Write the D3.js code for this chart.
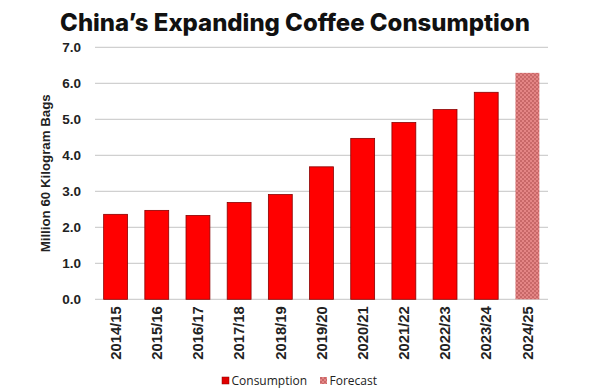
<!DOCTYPE html>
<html>
<head>
<meta charset="utf-8">
<script src="https://cdn.jsdelivr.net/npm/d3@7"></script>
<style>
  html, body { margin: 0; padding: 0; background: #fff; }
  svg { display: block; }
</style>
</head>
<body>
<svg id="chart" width="593" height="391"></svg>
<script>
const categories = ["2014/15","2015/16","2016/17","2017/18","2018/19","2019/20","2020/21","2021/22","2022/23","2023/24","2024/25"];
const consumption = [2.36, 2.47, 2.33, 2.69, 2.91, 3.68, 4.47, 4.91, 5.27, 5.75, 6.29];
const isForecast = [false,false,false,false,false,false,false,false,false,false,true];
const yTicks = [0,1,2,3,4,5,6,7];
const legendItems = ["Consumption","Forecast"];
const titleText = "China\u2019s Expanding Coffee Consumption";
const yLabel = "Million 60 Kilogram Bags";

const svg = d3.select("#chart");
const margin = {left: 95, right: 45, top: 47.3, bottom: 91.7};
const W = 593, H = 391;
const x = d3.scaleBand().domain(categories).range([margin.left, W - margin.right]).paddingInner(0.42).paddingOuter(0.21);
const y = d3.scaleLinear().domain([0, 7]).range([H - margin.bottom, margin.top]);

const defs = svg.append("defs");
const pat = defs.append("pattern").attr("id","checks").attr("patternUnits","userSpaceOnUse").attr("width",4).attr("height",4);
pat.append("rect").attr("width",4).attr("height",4).attr("fill","#e48585");
pat.append("rect").attr("width",2).attr("height",2).attr("fill","#c86868");
pat.append("rect").attr("x",2).attr("y",2).attr("width",2).attr("height",2).attr("fill","#c86868");

// title
const title = svg.append("text").attr("x", 295).attr("y", 31).attr("text-anchor","middle")
  .attr("font-family","Inter, 'Liberation Sans', Arial, sans-serif").attr("font-weight","800")
  .attr("font-size", 25).attr("fill","#111").text(titleText);
const tw = title.node().getComputedTextLength();
title.attr("font-size", 25 * 470 / tw);

// gridlines
svg.append("g").selectAll("line").data(yTicks).join("line")
  .attr("x1", margin.left).attr("x2", W - margin.right)
  .attr("y1", d => y(d)).attr("y2", d => y(d))
  .attr("stroke", "#d0d0d0").attr("stroke-width", 1.3);

// y axis
const yAxis = d3.axisLeft(y).tickValues(yTicks).tickFormat(d3.format(".1f")).tickSize(0).tickPadding(14);
const yg = svg.append("g").attr("transform", `translate(${margin.left},0)`).call(yAxis);
yg.select(".domain").remove();
yg.selectAll("text").attr("font-family","'Liberation Sans', Arial, sans-serif").attr("font-weight","700")
  .attr("font-size", 13.5).attr("fill","#222");

// y label
svg.append("text").attr("transform", `translate(50,${(y(0)+y(7))/2}) rotate(-90)`)
  .attr("text-anchor","middle").attr("font-family","'Liberation Sans', Arial, sans-serif")
  .attr("font-weight","700").attr("font-size", 13.3).attr("fill","#222").text(yLabel);

// bars
svg.append("g").selectAll("rect").data(categories).join("rect")
  .attr("x", d => x(d)).attr("width", x.bandwidth())
  .attr("y", (d,i) => y(consumption[i])).attr("height", (d,i) => y(0) - y(consumption[i]))
  .attr("fill", (d,i) => isForecast[i] ? "url(#checks)" : "#ff0000")
  .attr("stroke", (d,i) => isForecast[i] ? "none" : "#8a0000").attr("stroke-width", 0.8);

// x axis
const xAxis = d3.axisBottom(x).tickSize(0).tickPadding(0);
const xg = svg.append("g").attr("transform", `translate(0,${y(0)})`).call(xAxis);
xg.select(".domain").remove();
xg.selectAll("text").attr("font-family","'Liberation Sans', Arial, sans-serif").attr("font-weight","700")
  .attr("font-size", 14.8).attr("fill","#222")
  .attr("transform","rotate(-90)").attr("text-anchor","end").attr("dy","0.35em").attr("x", -7).attr("y", 0);

// legend
const lg = svg.append("g").attr("transform","translate(222,381)");
const lx = [0, 98];
legendItems.forEach((t,i) => {
  const g = lg.append("g").attr("transform", `translate(${lx[i]},0)`);
  g.append("rect").attr("x",0).attr("y",-4).attr("width",7).attr("height",7)
    .attr("fill", i === 0 ? "#e00000" : "url(#checks)").attr("stroke", i===0 ? "#8a0000" : "none").attr("stroke-width",0.5);
  g.append("text").attr("x",9.5).attr("y",0).attr("dy","0.35em")
    .attr("font-family","'Open Sans', 'Liberation Sans', sans-serif").attr("font-size",12).attr("fill","#222").text(t);
});
</script>
</body>
</html>
